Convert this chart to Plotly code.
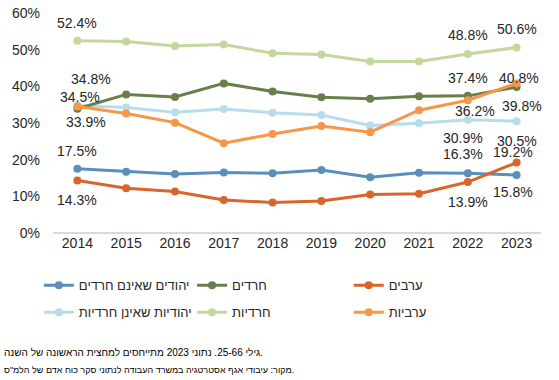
import plotly.graph_objects as go

years = [2014, 2015, 2016, 2017, 2018, 2019, 2020, 2021, 2022, 2023]

arab_men = [14.3, 12.2, 11.3, 9.0, 8.3, 8.7, 10.5, 10.7, 13.9, 19.2]
haredi_men = [33.9, 37.8, 37.1, 40.8, 38.6, 37.0, 36.6, 37.3, 37.4, 39.8]
jewish_men = [17.5, 16.7, 16.1, 16.5, 16.3, 17.2, 15.2, 16.4, 16.3, 15.8]
arab_women = [34.5, 32.6, 30.1, 24.5, 27.0, 29.2, 27.5, 33.5, 36.2, 40.8]
haredi_women = [52.4, 52.2, 51.0, 51.4, 49.0, 48.7, 46.8, 46.8, 48.8, 50.6]
jewish_women = [34.8, 34.2, 32.9, 33.8, 32.8, 32.2, 29.3, 29.9, 30.9, 30.5]

y_ticks = [0, 10, 20, 30, 40, 50, 60]

FONT = "Liberation Sans, Arial, sans-serif"
TXT = "#262626"

series = [
    # name, values, color, legend, rank
    ("יהודיות שאינן חרדיות", jewish_women, "#B7DDEA", "legend", 2),
    ("חרדיות", haredi_women, "#C4D89E", "legend2", 2),
    ("חרדים", haredi_men, "#687F4B", "legend2", 1),
    ("יהודים שאינם חרדים", jewish_men, "#5B8FBA", "legend", 1),
    ("ערבים", arab_men, "#D9652C", "legend3", 1),
    ("ערביות", arab_women, "#F79646", "legend3", 2),
]

fig = go.Figure()
for name, vals, color, leg, rank in series:
    fig.add_trace(go.Scatter(
        x=years, y=vals, name=name, mode="lines+markers",
        line=dict(color=color, width=3),
        marker=dict(color=color, size=8),
        legend=leg, legendrank=rank, legendgroup=name,
        hoverinfo="skip",
    ))

# data labels: (values, year index, xshift, yshift)
labels = [
    (haredi_women, 0, 0, 18), (jewish_women, 0, 14, 26), (arab_women, 0, 3, 10),
    (haredi_men, 0, 9, -13), (jewish_men, 0, 0, 18), (arab_men, 0, 0, -19),
    (haredi_women, 8, 0, 19), (haredi_women, 9, 0, 18),
    (haredi_men, 8, 0, 18), (arab_women, 9, 2, 5),
    (arab_women, 8, 7, -11), (haredi_men, 9, 5, -19),
    (jewish_women, 8, -5, -18), (jewish_women, 9, 0, -20),
    (jewish_men, 8, -5, 19), (arab_men, 9, -4, 11),
    (arab_men, 8, 0, -20), (jewish_men, 9, -4, -17),
]
for vals, i, dx, dy in labels:
    fig.add_annotation(
        x=years[i], y=vals[i], xref="x", yref="y", text=f"{vals[i]:.1f}%",
        showarrow=False, xshift=dx, yshift=dy,
        font=dict(family=FONT, size=14, color=TXT),
    )

notes = [
    ("גילי 25-66. נתוני 2023 מתייחסים למחצית הראשונה של השנה.", 10),
    ('מקור: עיבודי אגף אסטרטגיה במשרד העבודה לנתוני סקר כוח אדם של הלמ"ס.', 9),
]
for k, (t, fs) in enumerate(notes):
    fig.add_annotation(
        x=-51 / 488, y=-119 / 220 - k * 18 / 220, xref="paper", yref="paper",
        xanchor="left", yanchor="middle", text=t, showarrow=False,
        font=dict(family=FONT, size=fs, color="#000000"),
    )

leg_common = dict(
    orientation="v", yanchor="top", xanchor="left", y=-0.17,
    font=dict(family=FONT, size=13, color=TXT), tracegroupgap=7,
    bgcolor="rgba(0,0,0,0)", itemwidth=30, traceorder="grouped",
)

fig.update_layout(
    width=559, height=380,
    margin=dict(l=53, r=18, t=13, b=147, autoexpand=False),
    paper_bgcolor="white", plot_bgcolor="white",
    showlegend=True,
    legend=dict(x=-0.029, **leg_common),
    legend2=dict(x=0.285, **leg_common),
    legend3=dict(x=0.606, **leg_common),
    xaxis=dict(
        range=[2013.5, 2023.5], tickmode="array", tickvals=years,
        ticktext=[str(y) for y in years], showgrid=False, zeroline=False,
        showline=False, ticks="", tickfont=dict(family=FONT, size=14, color=TXT),
    ),
    yaxis=dict(
        range=[0, 60], tickmode="array", tickvals=y_ticks,
        ticktext=[f"{v}%" for v in y_ticks], showgrid=False,
        zeroline=True, zerolinecolor="#D9D9D9", zerolinewidth=2,
        showline=False, ticks="", ticklabelstandoff=12,
        tickfont=dict(family=FONT, size=14, color=TXT),
    ),
)

fig.write_html(
    "out.html",
    config={"displayModeBar": False},
    post_script="document.body.style.margin='0';document.body.style.overflow='hidden';",
)
